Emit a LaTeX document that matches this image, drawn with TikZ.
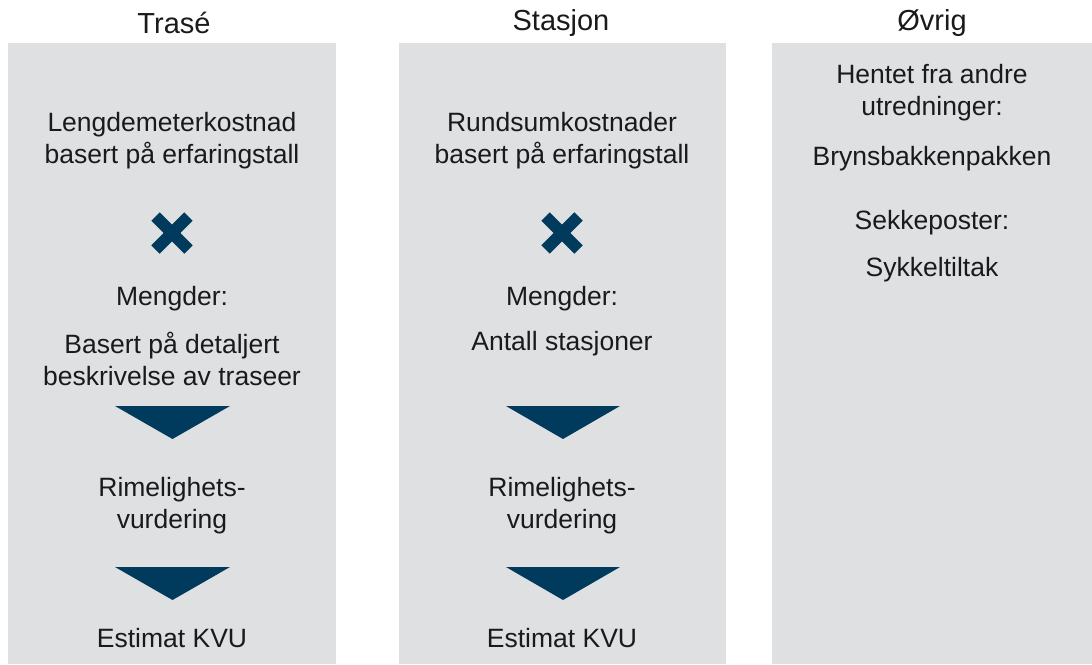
\documentclass[tikz,border=0pt]{standalone}
\usepackage{fontspec}
\setmainfont{Liberation Sans}
\definecolor{panelgray}{HTML}{DFE0E2}
\definecolor{navy}{HTML}{003A5C}
\definecolor{txt}{HTML}{1A1A1A}
\begin{document}
\begin{tikzpicture}[x=1pt,y=-1pt,
  panel/.style={fill=panelgray,draw=none},
  title/.style={font=\fontsize{29}{32}\selectfont,text=txt,inner sep=0pt},
  body/.style={font=\fontsize{26.5}{32}\selectfont,text=txt,align=center,inner sep=0pt},
  cross/.style={draw=navy,line width=12pt,line cap=butt},
  tri/.style={fill=navy,draw=none}]
\useasboundingbox (0,0) rectangle (1092,664);
% panels
\fill[panel] (8,43) rectangle (336,664);
\fill[panel] (399,43) rectangle (726,664);
\fill[panel] (772,43) rectangle (1092,664);
% titles
\node[title] (t1) at (174,23) {Trasé};
\node[title] (t2) at (561,23) {Stasjon};
\node[title] (t3) at (932,23) {Øvrig};
% column 1
\node[body] (a1) at (172,141) {Lengdemeterkostnad\\basert på erfaringstall};
\draw[cross] (172-16.5,233-16.5) -- (172+16.5,233+16.5);
\draw[cross] (172-16.5,233+16.5) -- (172+16.5,233-16.5);
\node[body] (a2) at (172,299) {Mengder:};
\node[body] (a3) at (172,359) {Basert på detaljert\\beskrivelse av traseer};
\fill[tri] (115,406) -- (230,406) -- (172.5,439) -- cycle;
\node[body] (a4) at (172,506) {Rimelighets-\\vurdering};
\fill[tri] (115,567) -- (230,567) -- (172.5,600) -- cycle;
\node[body] (a5) at (172,638) {Estimat KVU};
% column 2
\node[body] (b1) at (562,141) {Rundsumkostnader\\basert på erfaringstall};
\draw[cross] (562-16.5,233-16.5) -- (562+16.5,233+16.5);
\draw[cross] (562-16.5,233+16.5) -- (562+16.5,233-16.5);
\node[body] (b2) at (562,299) {Mengder:};
\node[body] (b3) at (562,344) {Antall stasjoner};
\fill[tri] (506,406) -- (620,406) -- (563,439) -- cycle;
\node[body] (b4) at (562,506) {Rimelighets-\\vurdering};
\fill[tri] (506,567) -- (620,567) -- (563,600) -- cycle;
\node[body] (b5) at (562,638) {Estimat KVU};
% column 3
\node[body] (c1) at (932,93) {Hentet fra andre\\utredninger:};
\node[body] (c2) at (932,159) {Brynsbakkenpakken};
\node[body] (c3) at (932,223) {Sekkeposter:};
\node[body] (c4) at (932,270) {Sykkeltiltak};
\end{tikzpicture}
\end{document}
